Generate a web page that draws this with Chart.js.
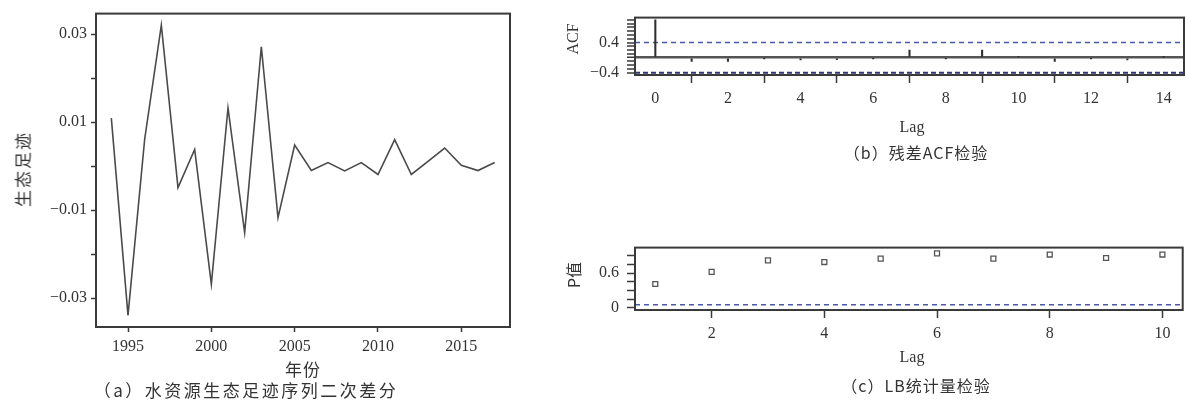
<!DOCTYPE html>
<html><head><meta charset="utf-8">
<script src="https://cdn.jsdelivr.net/npm/chart.js@4.4.1/dist/chart.umd.min.js"></script>
<style>
html,body{margin:0;padding:0;background:#fff;width:1188px;height:403px;overflow:hidden;position:relative;}
canvas{position:absolute;}
.t{position:absolute;transform:translate(-50%,-50%);white-space:nowrap;color:#333;font-family:"Noto Sans CJK SC","Noto Sans",sans-serif;line-height:1;}
.v{transform:translate(-50%,-50%) rotate(-90deg);}
.s{font-family:"Liberation Serif","DejaVu Serif",serif;}
</style></head><body>
<canvas id="ca" style="left:0;top:0" width="530" height="360"></canvas>
<canvas id="cb" style="left:560px;top:0" width="628" height="120"></canvas>
<canvas id="cc" style="left:560px;top:230px" width="628" height="120"></canvas>

<div class="t v" style="left:22px;top:169px;font-size:17px;letter-spacing:2px">生态足迹</div>
<div class="t" style="left:303px;top:368px;font-size:17px;letter-spacing:1px">年份</div>
<div class="t" style="left:246px;top:389px;font-size:17px;letter-spacing:2.5px">（a）水资源生态足迹序列二次差分</div>

<div class="t v s" style="left:573px;top:39px;font-size:16px">ACF</div>
<div class="t s" style="left:912px;top:127px;font-size:16px">Lag</div>
<div class="t" style="left:916px;top:152px;font-size:16px;letter-spacing:1px">（b）残差ACF检验</div>

<div class="t v" style="left:573px;top:275px;font-size:16px">P值</div>
<div class="t s" style="left:912px;top:357px;font-size:16px">Lag</div>
<div class="t" style="left:916px;top:385px;font-size:16px;letter-spacing:1px">（c）LB统计量检验</div>

<script>
// ---- data ----
const years = [1994,1995,1996,1997,1998,1999,2000,2001,2002,2003,2004,2005,2006,2007,2008,2009,2010,2011,2012,2013,2014,2015,2016,2017];
const diff2 = [0.0109,-0.0339,0.0061,0.0320,-0.0049,0.0038,-0.0268,0.0132,-0.0151,0.0271,-0.0117,0.0048,-0.0010,0.0008,-0.0011,0.0008,-0.0019,0.0060,-0.0019,0.0011,0.0041,0.0002,-0.0010,0.0008];
const yearTicks = [1995,2000,2005,2010,2015];
const diffTicks = [-0.03,-0.02,-0.01,0,0.01,0.02,0.03];
const diffLabels = [-0.03,-0.01,0.01,0.03];

const acfLags = [0,1,2,3,4,5,6,7,8,9,10,11,12,13,14];
const acfValues = [1,-0.10,-0.10,-0.02,-0.06,-0.05,-0.02,0.20,-0.02,0.20,0.02,-0.10,-0.02,-0.06,0.01];
const acfBound = 0.4;
const acfXTicks = [0,2,4,6,8,10,12,14];
const acfYLabels = [-0.4,0.4];

const lbLags = [1,2,3,4,5,6,7,8,9,10];
const lbPValues = [0.41,0.62,0.82,0.79,0.85,0.94,0.85,0.92,0.86,0.92];
const lbBound = 0.05;
const lbXTicks = [2,4,6,8,10];
const lbYLabels = [0,0.6];

// ---- helpers ----
const INK = '#3a3a3a';
const BLUE = '#4b5aa6';
const tickFont = {family:'"Liberation Serif","DejaVu Serif",serif', size:16};
const fmt = v => v < 0 ? '\u2212' + Math.abs(v) : String(v);
function padRange(arr){const mn=Math.min(...arr),mx=Math.max(...arr),d=(mx-mn)*0.04;return [mn-d,mx+d];}
function steps(from,to,step){const out=[];const n=Math.round((to-from)/step);for(let i=0;i<=n;i++)out.push(Math.round((from+i*step)*1000)/1000);return out;}

const framePlugin = {id:'frame', afterDatasetsDraw(chart){const {ctx,chartArea:a}=chart;ctx.save();ctx.strokeStyle=INK;ctx.lineWidth=2;ctx.strokeRect(a.left,a.top,a.right-a.left,a.bottom-a.top);ctx.restore();}};
Chart.register(framePlugin);
Chart.defaults.animation = false;
Chart.defaults.color = '#333';

function axis(opts){
  return Object.assign({
    type:'linear',
    border:{display:false},
    grid:{drawOnChartArea:false, drawTicks:true, tickLength:5, tickColor:INK, tickWidth:1.5},
    ticks:{font:tickFont, color:'#333', padding:4, maxRotation:0, autoSkip:false}
  }, opts);
}

// ---- panel a ----
const [ax0,ax1] = padRange(years);
const [ay0,ay1] = padRange(diff2);
new Chart(document.getElementById('ca'), {
  type:'line',
  data:{datasets:[{data:years.map((y,i)=>({x:y,y:diff2[i]})), borderColor:'#4a4a4a', borderWidth:1.6, pointRadius:0, tension:0}]},
  options:{
    responsive:false, events:[],
    layout:{padding:{top:11,right:20,left:0,bottom:0}},
    plugins:{legend:{display:false}, tooltip:{enabled:false}},
    scales:{
      x:axis({min:ax0,max:ax1, afterBuildTicks:s=>{s.ticks=yearTicks.map(v=>({value:v}));}, afterFit:s=>{s.height=33;},
        ticks:{font:tickFont,color:'#333',padding:5,maxRotation:0,autoSkip:false,callback:v=>String(v)}}),
      y:axis({min:ay0,max:ay1, afterBuildTicks:s=>{s.ticks=diffTicks.map(v=>({value:v}));}, afterFit:s=>{s.width=96;},
        ticks:{font:tickFont,color:'#333',padding:4,autoSkip:false,callback:v=>diffLabels.includes(v)?fmt(v):''}})
    }
  }
});

// ---- panel b ----
const bx0 = -0.56, bx1 = 14.56;
const [by0,by1] = padRange([...acfValues,-acfBound,acfBound]);
const acfYTicks = steps(-0.4,1.0,0.1);
new Chart(document.getElementById('cb'), {
  type:'bar',
  data:{datasets:[
    {type:'bar', data:acfLags.map((l,i)=>({x:l,y:acfValues[i]})), backgroundColor:'#2e2e2e', barThickness:1.4, borderWidth:0},
    {type:'line', data:[{x:bx0,y:acfBound},{x:bx1,y:acfBound}], borderColor:BLUE, borderWidth:1.4, borderDash:[5,4], pointRadius:0},
    {type:'line', data:[{x:bx0,y:-acfBound},{x:bx1,y:-acfBound}], borderColor:'#2f3570', borderWidth:2, borderDash:[5,3], pointRadius:0}
  ]},
  options:{
    responsive:false, events:[],
    layout:{padding:{top:4,right:4,left:0,bottom:0}},
    plugins:{legend:{display:false}, tooltip:{enabled:false}},
    scales:{
      x:axis({min:bx0,max:bx1, offset:false, afterBuildTicks:s=>{s.ticks=acfXTicks.map(v=>({value:v}));}, afterFit:s=>{s.height=45;},
        grid:{drawOnChartArea:false,tickLength:8,tickColor:INK,tickWidth:1.5},
        ticks:{font:tickFont,color:'#333',padding:6,maxRotation:0,autoSkip:false}}),
      y:axis({min:by0,max:by1, afterBuildTicks:s=>{s.ticks=acfYTicks.map(v=>({value:v}));}, afterFit:s=>{s.width=75;},
        grid:{drawOnChartArea:true, color:c=>c.tick && c.tick.value===0 ? '#555' : 'rgba(0,0,0,0)', lineWidth:c=>c.tick && c.tick.value===0 ? 2.5 : 0, tickLength:8, tickColor:INK, tickWidth:1.5},
        ticks:{font:tickFont,color:'#333',padding:8,autoSkip:false,callback:v=>acfYLabels.includes(v)?fmt(v):''}})
    }
  }
});

// ---- panel c ----
const [cx0,cx1] = padRange(lbLags);
const cy0 = -0.04, cy1 = 1.04;
const lbYTicks = steps(0,0.9,0.15);
new Chart(document.getElementById('cc'), {
  type:'scatter',
  data:{datasets:[
    {type:'line', data:[{x:cx0,y:lbBound},{x:cx1,y:lbBound}], borderColor:BLUE, borderWidth:1.6, borderDash:[5,4], pointRadius:0},
    {type:'scatter', data:lbLags.map((l,i)=>({x:l,y:lbPValues[i]})), pointStyle:'rect', pointRadius:3.5, borderColor:'#555', backgroundColor:'rgba(0,0,0,0)', pointBorderWidth:1.3}
  ]},
  options:{
    responsive:false, events:[],
    layout:{padding:{top:12,right:4,left:0,bottom:0}},
    plugins:{legend:{display:false}, tooltip:{enabled:false}},
    scales:{
      x:axis({min:cx0,max:cx1, afterBuildTicks:s=>{s.ticks=lbXTicks.map(v=>({value:v}));}, afterFit:s=>{s.height=40;},
        grid:{drawOnChartArea:false,tickLength:8,tickColor:INK,tickWidth:1.5},
        ticks:{font:tickFont,color:'#333',padding:6,maxRotation:0,autoSkip:false}}),
      y:axis({min:cy0,max:cy1, afterBuildTicks:s=>{s.ticks=lbYTicks.map(v=>({value:v}));}, afterFit:s=>{s.width=75;},
        grid:{drawOnChartArea:false,tickLength:8,tickColor:INK,tickWidth:1.5},
        ticks:{font:tickFont,color:'#333',padding:8,autoSkip:false,callback:v=>lbYLabels.includes(v)?fmt(v):''}})
    }
  }
});
</script>
</body></html>
